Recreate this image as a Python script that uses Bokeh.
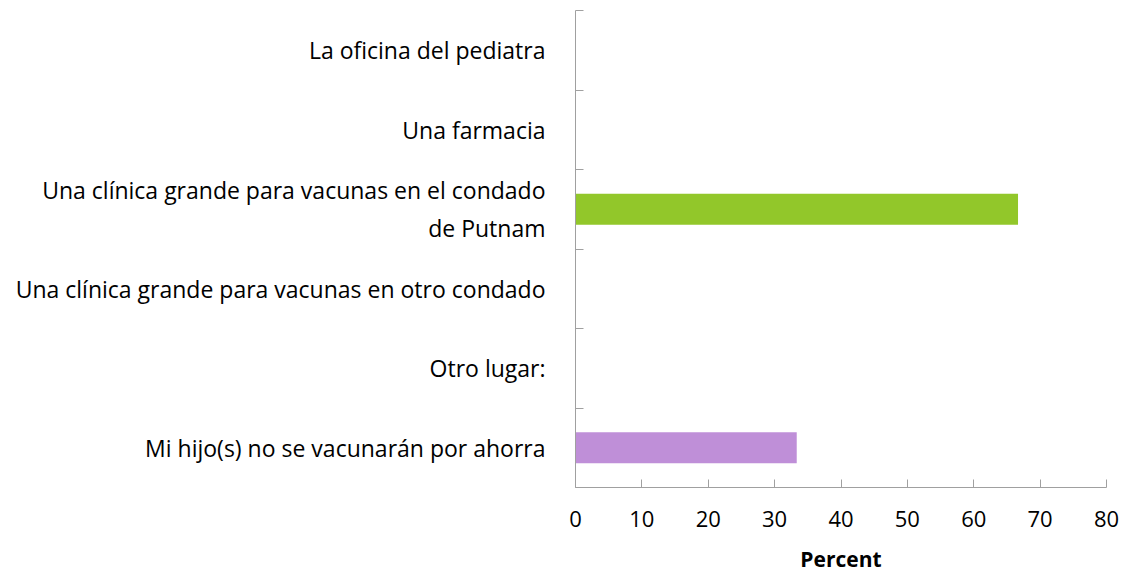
from bokeh.plotting import figure
from bokeh.models import FixedTicker, ColumnDataSource, Range1d
from bokeh.embed import file_html
from bokeh.resources import INLINE

categories = [
    "La oficina del pediatra",
    "Una farmacia",
    "Una clínica grande para vacunas en el condado\nde Putnam",
    "Una clínica grande para vacunas en otro condado",
    "Otro lugar:",
    "Mi hijo(s) no se vacunarán por ahorra",
]
values = [0, 0, 66.67, 0, 0, 33.33]
colors = ["#4F81BD", "#C0504D", "#92C72A", "#4BACC6", "#F79646", "#BF8FD8"]
x_ticks = [0, 10, 20, 30, 40, 50, 60, 70, 80]

n = len(categories)
ypos = [n - i - 0.5 for i in range(n)]
source = ColumnDataSource(dict(y=ypos, right=values, color=colors))

FONT = "Open Sans"
p = figure(width=1122, height=575, output_backend="svg", toolbar_location=None,
           x_range=Range1d(0, 80), y_range=Range1d(0, n),
           min_border_left=575, min_border_right=16, min_border_top=10,
           min_border_bottom=87)
p.outline_line_color = None
p.grid.grid_line_color = None
p.background_fill_color = "white"

p.hbar(y="y", right="right", left=0, height=0.39, color="color",
       line_color=None, source=source)

grey = "#A0A0A0"
# x axis
xa = p.xaxis[0]
xa.ticker = FixedTicker(ticks=x_ticks, minor_ticks=[])
xa.axis_line_color = grey
xa.major_tick_line_color = grey
xa.major_tick_in = 8
xa.major_tick_out = 0
xa.minor_tick_line_color = None
xa.major_label_text_font = FONT
xa.major_label_text_font_size = "22px"
xa.major_label_text_color = "black"
xa.major_label_standoff = 23
xa.axis_label = "Percent"
xa.axis_label_text_font = FONT
xa.axis_label_text_font_style = "bold"
xa.axis_label_text_font_size = "21px"
xa.axis_label_text_color = "black"
xa.axis_label_standoff = 15

# y axis
ya = p.yaxis[0]
ya.ticker = FixedTicker(ticks=ypos, minor_ticks=list(range(n + 1)))
ya.major_label_overrides = {y: c for y, c in zip(ypos, categories)}
ya.axis_line_color = grey
ya.major_tick_line_color = None
ya.minor_tick_line_color = grey
ya.minor_tick_in = 8
ya.minor_tick_out = 0
ya.major_label_text_font = FONT
ya.major_label_text_font_size = "23px"
ya.major_label_text_color = "black"
ya.major_label_standoff = 24

open("out.html", "w").write(file_html(p, INLINE))
